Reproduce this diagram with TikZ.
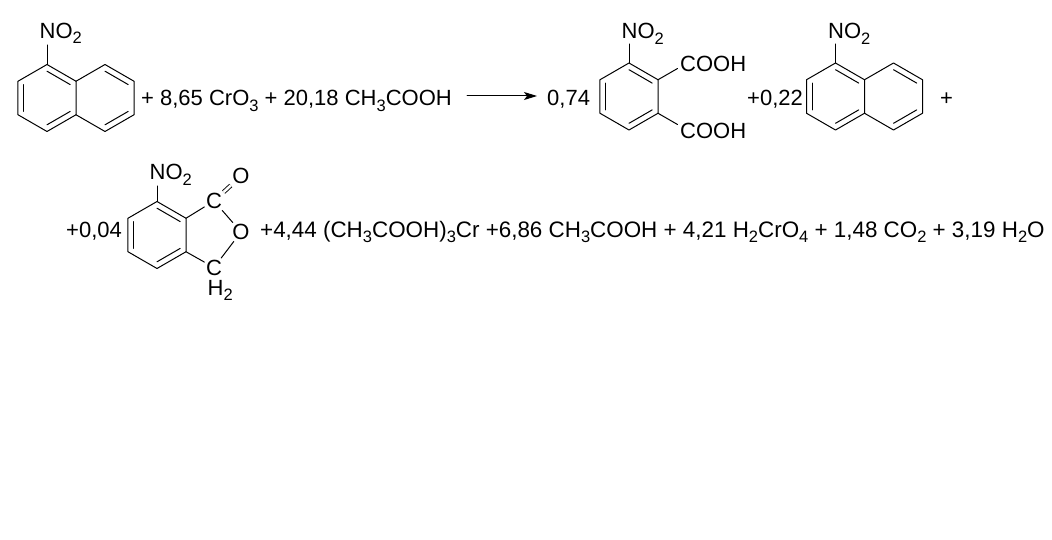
\documentclass[tikz,border=0pt]{standalone}
\usepackage{fontspec}
\setmainfont{Liberation Sans}
\usetikzlibrary{calc,arrows.meta}
\newcommand{\sbs}[1]{\raisebox{-0.24em}{\fontsize{16.5}{17}\selectfont #1}}
\def\bl{33.5}
\def\hw{29.01}
\def\hs{16.75}
\newcommand{\hexpts}[3]{%
  \coordinate (#1-c) at (#2,#3);
  \coordinate (#1-1) at ({#2},{#3-\bl});
  \coordinate (#1-2) at ({#2+\hw},{#3-\hs});
  \coordinate (#1-3) at ({#2+\hw},{#3+\hs});
  \coordinate (#1-4) at ({#2},{#3+\bl});
  \coordinate (#1-5) at ({#2-\hw},{#3+\hs});
  \coordinate (#1-6) at ({#2-\hw},{#3-\hs});}
\newcommand{\innerbond}[3]{\draw[bond] ($(#1-#2)!0.2!(#1-c)$) -- ($(#1-#3)!0.2!(#1-c)$);}
\begin{document}
\begin{tikzpicture}[x=1pt,y=-1pt,
  bond/.style={line width=1pt, line cap=round, line join=round},
  txt/.style={anchor=base west, inner sep=0pt, font=\fontsize{22}{26}\selectfont},
  wtxt/.style={anchor=base west, inner sep=0pt, font=\fontsize{22.4}{26}\selectfont},
  atom/.style={inner sep=1.5pt, font=\fontsize{22}{26}\selectfont}]
\fill[white] (0,0) rectangle (1052,540);
\useasboundingbox (0,0) rectangle (1052,540);

% ---------- Row 1: 1-nitronaphthalene ----------
\hexpts{a}{47}{98}
\hexpts{b}{105}{98}
\draw[bond] (a-1) -- (a-2) -- (a-3) -- (a-4) -- (a-5) -- (a-6) -- cycle;
\draw[bond] (b-6) -- (b-1) -- (b-2) -- (b-3) -- (b-4) -- (b-5);
\innerbond{a}{6}{5}\innerbond{a}{1}{2}\innerbond{a}{4}{3}
\innerbond{b}{1}{2}\innerbond{b}{3}{4}
\node[txt] (no2a) at (39.5,38.5) {NO\sbs{2}};
\coordinate (na) at (47,45);
\draw[bond] (a-1) -- (na);

\node[txt] (t1) at (141,106) {+ 8,65 CrO\sbs{3} + 20,18 CH\sbs{3}COOH};
\coordinate (ar1) at (467,96);
\coordinate (ar2) at (537,96);
\draw[bond,-{Stealth[length=13pt,width=8pt,inset=3pt]}] (ar1) -- (ar2);
\node[txt] (t2) at (547,106) {0,74};

% ---------- 3-nitrophthalic acid ----------
\hexpts{p}{629}{96.5}
\draw[bond] (p-1) -- (p-2) -- (p-3) -- (p-4) -- (p-5) -- (p-6) -- cycle;
\innerbond{p}{6}{5}\innerbond{p}{1}{2}\innerbond{p}{3}{4}
\node[txt] (no2p) at (621.5,39) {NO\sbs{2}};
\coordinate (np) at (629,44);
\draw[bond] (p-1) -- (np);
\node[txt] (cooh1) at (680,72) {COOH};
\node[txt] (cooh2) at (680,139) {COOH};
\coordinate (k1) at ($(p-2)+(19.5,-11.25)$);
\coordinate (k2) at ($(p-3)+(19.5,11.25)$);
\draw[bond] (p-2) -- (k1);
\draw[bond] (p-3) -- (k2);

\node[txt] (t3) at (747,106) {+0,22};

% ---------- 1-nitronaphthalene (product) ----------
\hexpts{d}{835.5}{96.5}
\hexpts{e}{893.5}{96.5}
\draw[bond] (d-1) -- (d-2) -- (d-3) -- (d-4) -- (d-5) -- (d-6) -- cycle;
\draw[bond] (e-6) -- (e-1) -- (e-2) -- (e-3) -- (e-4) -- (e-5);
\innerbond{d}{6}{5}\innerbond{d}{1}{2}\innerbond{d}{4}{3}
\innerbond{e}{1}{2}\innerbond{e}{3}{4}
\node[txt] (no2d) at (828,39) {NO\sbs{2}};
\coordinate (nd) at (835.5,44);
\draw[bond] (d-1) -- (nd);
\node[txt] (t4) at (940,106) {+};

% ---------- Row 2: nitrophthalide ----------
\node[txt] (t5) at (66,237) {+0,04};
\hexpts{q}{157}{235}
\draw[bond] (q-1) -- (q-2) -- (q-3) -- (q-4) -- (q-5) -- (q-6) -- cycle;
\innerbond{q}{6}{5}\innerbond{q}{1}{2}\innerbond{q}{3}{4}
\node[txt] (no2q) at (149.5,180) {NO\sbs{2}};
\coordinate (nq) at (157,186);
\draw[bond] (q-1) -- (nq);
\node[atom] (c1) at (214,201) {C};
\node[atom] (o1) at (241,176) {O};
\node[atom] (o2) at (241,232) {O};
\node[atom] (c2) at (214,267.5) {C};
\node[txt] (h2) at (207.5,295) {H\sbs{2}};
\draw[bond] (q-2) -- (c1);
\draw[bond] (q-3) -- (c2);
\draw[bond] (c1) -- (o2);
\draw[bond] (o2) -- (c2);
\draw[line width=0.9pt, double, double distance=2.6pt] (c1) -- (o1);

\node[wtxt] (t6) at (260,237) {+4,44 (CH\sbs{3}COOH)\sbs{3}Cr +6,86 CH\sbs{3}COOH + 4,21 H\sbs{2}CrO\sbs{4} + 1,48 CO\sbs{2} + 3,19 H\sbs{2}O};
\end{tikzpicture}
\end{document}
